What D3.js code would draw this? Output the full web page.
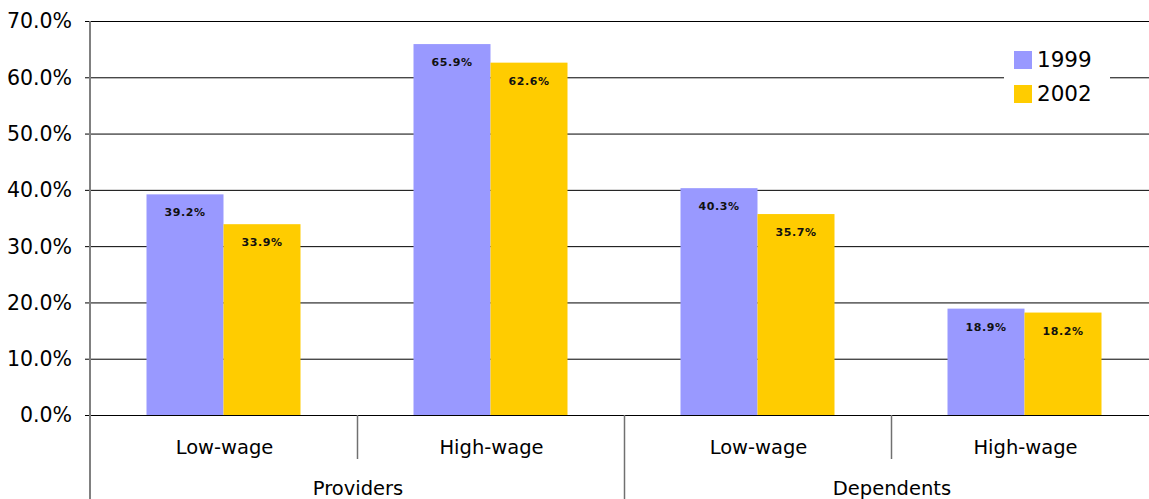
<!DOCTYPE html>
<html><head><meta charset="utf-8">
<script src="https://cdn.jsdelivr.net/npm/d3@7"></script>
<style>body{margin:0;background:#fff;} svg{display:block;}</style>
</head><body>
<svg id="chart" width="1149" height="499"></svg>
<script>
const groups = ["Providers", "Dependents"];
const categories = ["Low-wage", "High-wage", "Low-wage", "High-wage"];
const categoryGroup = ["Providers", "Providers", "Dependents", "Dependents"];
const seriesNames = ["1999", "2002"];
const values1999 = [39.2, 65.9, 40.3, 18.9];
const values2002 = [33.9, 62.6, 35.7, 18.2];
const yTicks = [0, 10, 20, 30, 40, 50, 60, 70];
const colors = ["#9999FF", "#FFCC00"];

(function () {
const svg = d3.select("#chart");
const font = "'DejaVu Sans', Verdana, sans-serif";
const plotLeft = 91, plotRight = 1159, plotTop = 21, plotBottom = 415;

const x = d3.scaleBand().domain(d3.range(categories.length)).range([plotLeft, plotRight]).padding(0);
const y = d3.scaleLinear().domain([0, 70]).range([plotBottom, plotTop]);
const sub = d3.scaleBand().domain(seriesNames).range([-78, 76]).padding(0);

// gridlines
svg.append("g").selectAll("line").data(yTicks).join("line")
  .attr("x1", plotLeft - 6).attr("x2", 1149)
  .attr("y1", d => y(d) + 0.5).attr("y2", d => y(d) + 0.5)
  .attr("stroke", "#000").attr("stroke-width", 1);

// tick labels
svg.append("g").selectAll("text").data(yTicks).join("text")
  .attr("x", 72).attr("y", d => y(d)).attr("dy", "0.36em")
  .attr("text-anchor", "end")
  .attr("font-family", font).attr("font-size", 20.5).attr("fill", "#000")
  .text(d => d3.format(".1f")(d) + "%");

// bars
const series = [values1999, values2002];
series.forEach((vals, si) => {
  svg.append("g").selectAll("rect").data(vals).join("rect")
    .attr("x", (d, i) => x(i) + x.bandwidth() / 2 + sub(seriesNames[si]))
    .attr("y", d => y(d))
    .attr("width", sub.bandwidth())
    .attr("height", d => y(0) - y(d))
    .attr("fill", colors[si]);
  svg.append("g").selectAll("text").data(vals).join("text")
    .attr("x", (d, i) => x(i) + x.bandwidth() / 2 + sub(seriesNames[si]) + sub.bandwidth() / 2)
    .attr("y", d => y(d) + 22)
    .attr("text-anchor", "middle")
    .attr("font-family", font).attr("font-size", 11).attr("font-weight", "bold")
    .attr("letter-spacing", "0.6px")
    .attr("fill", "#111")
    .text(d => d3.format(".1f")(d) + "%");
});

// baseline redraw
svg.append("line").attr("x1", plotLeft - 6).attr("x2", 1149)
  .attr("y1", y(0) + 0.5).attr("y2", y(0) + 0.5).attr("stroke", "#000");

// y axis line
svg.append("line").attr("x1", plotLeft - 1).attr("x2", plotLeft - 1)
  .attr("y1", plotTop).attr("y2", 499).attr("stroke", "#808080").attr("stroke-width", 2);

// category separators
d3.range(1, categories.length).forEach(i => {
  const xs = Math.round(x(i)) - 0.5;
  const full = categoryGroup[i] !== categoryGroup[i - 1];
  svg.append("line").attr("x1", xs).attr("x2", xs)
    .attr("y1", y(0)).attr("y2", full ? 499 : 459)
    .attr("stroke", "#707070").attr("stroke-width", 1.5);
});

// category labels
svg.append("g").selectAll("text").data(categories).join("text")
  .attr("x", (d, i) => x(i) + x.bandwidth() / 2)
  .attr("y", 454)
  .attr("text-anchor", "middle")
  .attr("font-family", font).attr("font-size", 19.5).attr("fill", "#000")
  .text(d => d);

// group labels
groups.forEach(g => {
  const idx = categoryGroup.map((c, i) => c === g ? i : -1).filter(i => i >= 0);
  const cx = (x(idx[0]) + x(idx[idx.length - 1]) + x.bandwidth()) / 2;
  svg.append("text").attr("x", cx).attr("y", 495)
    .attr("text-anchor", "middle")
    .attr("font-family", font).attr("font-size", 19.5).attr("fill", "#000")
    .text(g);
});

// legend
const lg = svg.append("g").attr("transform", "translate(1004,40)");
lg.append("rect").attr("x", 0).attr("y", 0).attr("width", 106).attr("height", 70).attr("fill", "#fff");
seriesNames.forEach((s, i) => {
  lg.append("rect").attr("x", 10).attr("y", 11 + i * 34).attr("width", 18).attr("height", 18).attr("fill", colors[i]);
  lg.append("text").attr("x", 33).attr("y", 19 + i * 34).attr("dy", "0.36em")
    .attr("font-family", font).attr("font-size", 21.5).attr("fill", "#000").text(s);
});
})();
</script>
</body></html>
